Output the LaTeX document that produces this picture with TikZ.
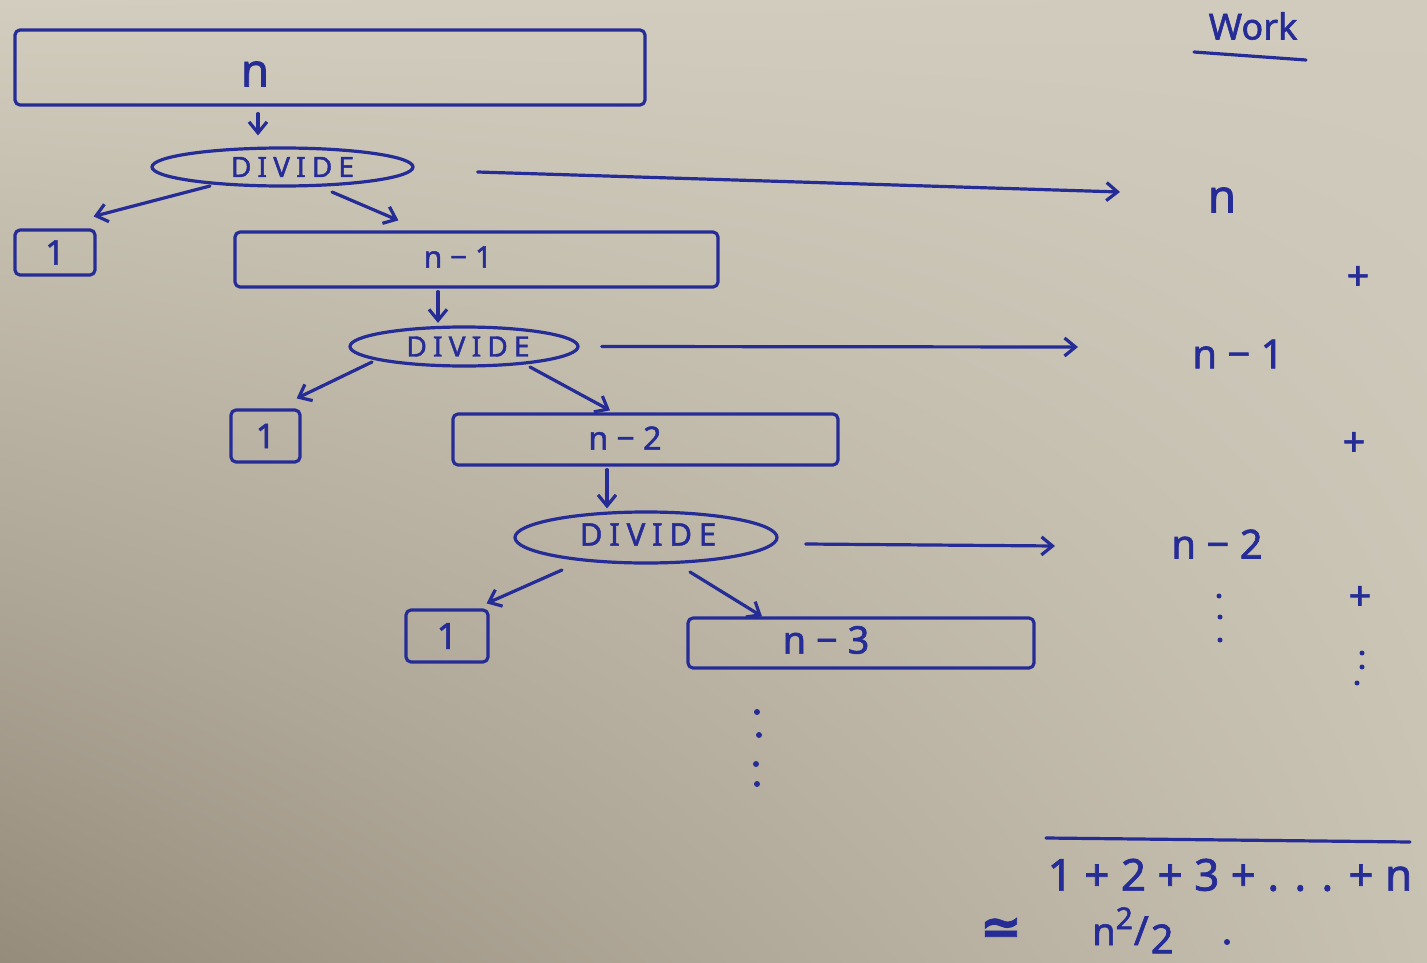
\documentclass[tikz,border=0pt]{standalone}
\usepackage{fontspec}
\setmainfont{Noto Sans}[FakeBold=1.6]
\newfontfamily\symfont{DejaVu Sans}[FakeBold=1.6]
\usetikzlibrary{shapes.geometric,arrows.meta,calc,shadings}
\definecolor{ink}{RGB}{38,44,150}
\definecolor{paperUL}{RGB}{210,205,190}
\definecolor{paperUR}{RGB}{208,203,189}
\definecolor{paperLL}{RGB}{150,140,124}
\definecolor{paperLR}{RGB}{200,194,178}
\newcommand{\penwt}{\bfseries}
\begin{document}
\begin{tikzpicture}[x=1pt,y=-1pt,
  pen/.style={draw=ink, line width=3.2pt, line cap=round, line join=round},
  box/.style={pen, rectangle, rounded corners=5pt, inner sep=0pt},
  oval/.style={pen, ellipse, inner sep=0pt},
  arr/.style={pen, -{Straight Barb[length=11pt,width=18pt,line width=3.2pt]}},
  lbl/.style={text=ink, inner sep=0pt, font=\fontsize{#1}{#1}\selectfont\penwt},
  lbl/.default=40,
  caps/.style={text=ink, inner sep=0pt, font=\fontsize{#1}{#1}\selectfont\penwt\addfontfeature{LetterSpace=22}},
  inkdot/.style={fill=ink, circle, inner sep=0pt, minimum size=6pt}]
\useasboundingbox (0,0) rectangle (1427,963);
\shade[upper left=paperUL, upper right=paperUR, lower left=paperLL, lower right=paperLR]
  (0,0) rectangle (1427,963);

% --- level 0
\node[box, minimum width=630pt, minimum height=75pt] (top) at (330,67.5) {};
\node[lbl=46] (tn) at (255,74) {n};
\node[oval, minimum width=261pt, minimum height=38pt] (d1) at (282.5,167) {};
\node[caps=28] at ($(d1)+(10,0)$) {DIVIDE};

% --- level 1
\node[box, minimum width=80pt, minimum height=45pt] (one1) at (55,252.5) {};
\node[lbl=34] at (one1) {1};
\node[box, minimum width=483pt, minimum height=55pt] (b1) at (476.5,259.5) {};
\node[lbl=30] at (458,257) {n − 1};
\node[oval, minimum width=228pt, minimum height=39pt] (d2) at (464,346.5) {};
\node[caps=28] at ($(d2)+(4,0)$) {DIVIDE};

% --- level 2
\node[box, minimum width=69pt, minimum height=52pt] (one2) at (265.5,436) {};
\node[lbl=34] at (one2) {1};
\node[box, minimum width=385pt, minimum height=51pt] (b2) at (645.5,439.5) {};
\node[lbl=32] at (625,438) {n − 2};
\node[oval, minimum width=262pt, minimum height=51pt] (d3) at (646,537.5) {};
\node[caps=31] at ($(d3)+(2,-3)$) {DIVIDE};

% --- level 3
\node[box, minimum width=82pt, minimum height=52pt] (one3) at (447,636) {};
\node[lbl=36] at (one3) {1};
\node[box, minimum width=346pt, minimum height=50pt] (b3) at (861,643) {};
\node[lbl=38] at (826,640) {n − 3};

% tree continues
\foreach \yy/\xx in {712/757,735/759,764/756,784/757}
  \node[inkdot] at (\xx,\yy) {};

% --- tree arrows
\draw[arr] ($(top.south)+(-72,7)$) -- ($(d1.north)+(-24.5,-11)$);
\draw[arr] ($(d1)+(-72.5,19)$) -- ($(one1.north east)+(-3,-12)$);
\draw[arr] ($(d1)+(49.5,25)$) -- ($(b1.north west)+(165,-10)$);
\draw[arr] ($(b1.south)+(-38.5,3)$) -- ($(d2.north)+(-26,-2.5)$);
\draw[arr] ($(d2)+(-92,15.5)$) -- ($(one2.north east)+(-5,-10)$);
\draw[arr] ($(d2)+(66,20.5)$) -- ($(b2.north)+(-35.5,-2)$);
\draw[arr] ($(b2.south)+(-38.5,3)$) -- ($(d3.north)+(-39,-2)$);
\draw[arr] ($(d3)+(-84,32.5)$) -- ($(one3.north east)+(-3,-5)$);
\draw[arr] ($(d3)+(44,34.5)$) -- ($(b3.north)+(-99,0)$);

% --- work column
\node[lbl=36] (work) at (1253,26) {Work};
\draw[pen] ($(work)+(-59,26)$) -- ($(work)+(53,34)$);

\node[lbl=46] (w1) at (1222,200) {n};
\node[lbl=40] (p1) at (1358,278) {+};
\node[lbl=40] (w2) at (1238,354) {n − 1};
\node[lbl=40] (p2) at (1354,444) {+};
\node[lbl=40] (w3) at (1217,544) {n − 2};
\node[lbl=40] (p3) at (1360,598) {+};
\foreach \yy/\xx in {596/1219,617/1220,640/1220,653/1362,667/1362,683/1357}
  \node[inkdot, minimum size=5pt] at (\xx,\yy) {};

\draw[arr] ($(d1.east)+(63,5)$) -- ($(w1)+(-102,-8)$);
\draw[arr] ($(d2.east)+(22,0)$) -- ($(w2)+(-160,-7)$);
\draw[arr] ($(d3.east)+(27,6.5)$) -- ($(w3)+(-162,2)$);

% --- total
\node[lbl=44] (sum) at (1230,875) {1 + 2 + 3 + . . .  + n};
\draw[pen] ($(sum)+(-184,-37)$) -- ($(sum)+(180,-33)$);
\node[text=ink, inner sep=0pt, font=\fontsize{50}{50}\selectfont\symfont\penwt] (approx) at (1001,931) {≃};
\node[lbl=38, anchor=base west] (res) at (1092,945)
  {n\raisebox{0.42em}{\fontsize{30}{30}\selectfont\penwt 2}\kern1pt{\fontsize{40}{40}\selectfont\penwt /}\kern2pt\raisebox{-0.22em}{\fontsize{40}{40}\selectfont\penwt 2}};
\node[inkdot, minimum size=6pt] at (1227,942) {};
\end{tikzpicture}
\end{document}
